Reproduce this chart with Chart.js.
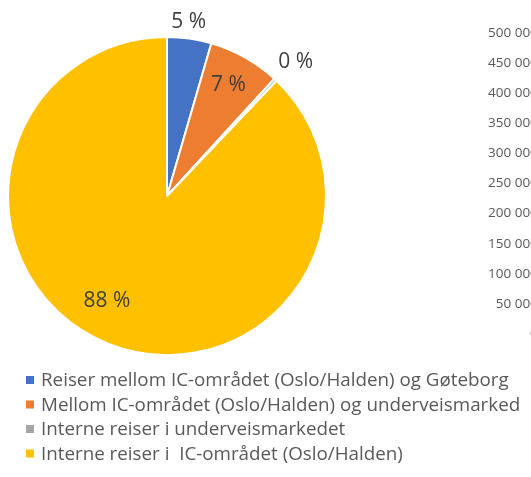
<!DOCTYPE html>
<html>
<head>
<meta charset="utf-8">
<script src="https://cdn.jsdelivr.net/npm/chart.js@4"></script>
<style>
  html, body { margin: 0; padding: 0; background: #ffffff; width: 531px; height: 477px; overflow: hidden; }
  #wrap { position: relative; width: 531px; height: 477px; overflow: hidden; }
  #pie { position: absolute; left: 0; top: 0; }
  #axis { position: absolute; left: 482px; top: 0; }
</style>
</head>
<body>
<div id="wrap">
  <canvas id="pie" width="531" height="477"></canvas>
  <canvas id="axis" width="200" height="477"></canvas>
</div>
<script>
// ---- data ----
const categories = [
  "Reiser mellom IC-området (Oslo/Halden) og Gøteborg",
  "Mellom IC-området (Oslo/Halden) og underveismarked",
  "Interne reiser i underveismarkedet",
  "Interne reiser i  IC-området (Oslo/Halden)"
];
const shares = [4.5, 7.3, 0.3, 87.9];
const shareLabels = ["5 %", "7 %", "0 %", "88 %"];
const colors = ["#4472C4", "#ED7D31", "#A5A5A5", "#FFC000"];
const axisMin = 0;
const axisMax = 500000;
const axisStep = 50000;

const FONT = "'Open Sans', sans-serif";

// labels on / around slices
const sliceLabelPlugin = {
  id: 'sliceLabels',
  afterDatasetsDraw(chart, args, opts) {
    const ctx = chart.ctx;
    const meta = chart.getDatasetMeta(0);
    ctx.save();
    ctx.font = opts.font;
    ctx.fillStyle = opts.color;
    ctx.textAlign = 'center';
    ctx.textBaseline = 'middle';
    meta.data.forEach((arc, i) => {
      const p = arc.getProps(['x', 'y', 'startAngle', 'endAngle', 'outerRadius'], true);
      const place = opts.place[i];
      const mid = (p.startAngle + p.endAngle) / 2 + place.da * Math.PI / 180;
      const r = p.outerRadius * place.r + place.add;
      ctx.fillText(shareLabels[i], p.x + Math.cos(mid) * r, p.y + Math.sin(mid) * r);
    });
    ctx.restore();
  }
};

// legend drawn from the library's generated legend items
const listLegendPlugin = {
  id: 'listLegend',
  afterDraw(chart, args, opts) {
    const ctx = chart.ctx;
    const items = chart.options.plugins.legend.labels.generateLabels(chart);
    ctx.save();
    ctx.font = opts.font;
    ctx.textBaseline = 'middle';
    ctx.textAlign = 'left';
    items.forEach((it, i) => {
      const cy = opts.top + i * opts.rowHeight;
      ctx.fillStyle = it.fillStyle;
      ctx.fillRect(opts.left, cy - opts.box / 2, opts.box, opts.box);
      ctx.fillStyle = opts.color;
      ctx.fillText(it.text, opts.left + opts.box + opts.gap, cy + 1);
    });
    ctx.restore();
  }
};

new Chart(document.getElementById('pie'), {
  type: 'pie',
  data: {
    labels: categories,
    datasets: [{
      data: shares,
      backgroundColor: colors,
      borderColor: '#ffffff',
      borderWidth: 2,
      hoverOffset: 0
    }]
  },
  options: {
    responsive: false,
    animation: false,
    layout: { padding: { left: 7, top: 36, right: 204, bottom: 121 } },
    plugins: {
      legend: { display: false },
      tooltip: { enabled: false },
      sliceLabels: {
        font: "21px " + FONT,
        color: '#404040',
        place: [
          { r: 1, add: 16, da: -1 },
          { r: 0.80, add: 0, da: -0.5 },
          { r: 1, add: 27, da: 0.8 },
          { r: 0.76, add: 0, da: 8 }
        ]
      },
      listLegend: {
        font: "18.8px " + FONT,
        color: '#595959',
        left: 26,
        top: 380,
        rowHeight: 24.5,
        box: 8,
        gap: 7
      }
    }
  },
  plugins: [sliceLabelPlugin, listLegendPlugin]
});

// cropped value axis of a neighbouring chart
new Chart(document.getElementById('axis'), {
  type: 'bar',
  data: { labels: [''], datasets: [{ data: [], backgroundColor: '#4472C4' }] },
  options: {
    responsive: false,
    animation: false,
    layout: { padding: { left: 0, top: 33, right: 0, bottom: 143 } },
    plugins: { legend: { display: false }, tooltip: { enabled: false } },
    scales: {
      x: { display: false },
      y: {
        min: axisMin,
        max: axisMax,
        ticks: {
          stepSize: axisStep,
          color: '#595959',
          font: { family: FONT, size: 13.5 },
          padding: 6,
          callback: (v) => String(v).replace(/\B(?=(\d{3})+(?!\d))/g, ' ')
        },
        grid: { display: false },
        border: { display: false }
      }
    }
  }
});
</script>
</body>
</html>
